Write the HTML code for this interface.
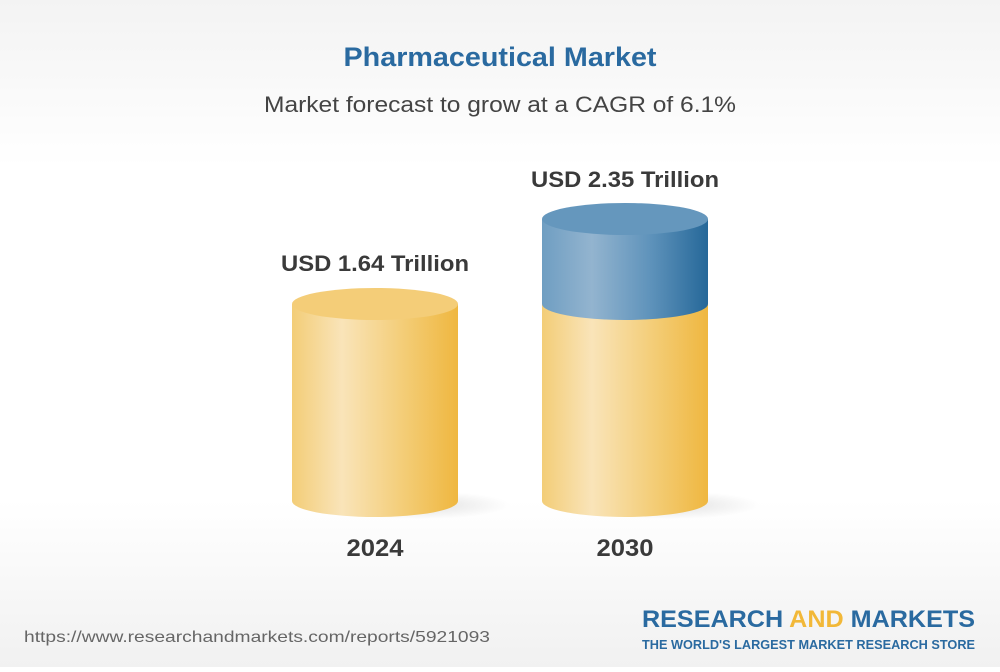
<!DOCTYPE html>
<html><head><style>
html,body{margin:0;padding:0;}
body{width:1000px;height:667px;overflow:hidden;font-family:"Liberation Sans",sans-serif;}
</style></head><body>
<svg width="1000" height="667" xmlns="http://www.w3.org/2000/svg">
<defs>
<linearGradient id="bg" x1="0" y1="0" x2="0" y2="1">
<stop offset="0" stop-color="#f3f3f3"/><stop offset="0.25" stop-color="#ffffff"/><stop offset="0.75" stop-color="#ffffff"/><stop offset="1" stop-color="#f1f1f1"/>
</linearGradient>
<linearGradient id="gold" x1="0" x2="1">
<stop offset="0" stop-color="#f3cd77"/><stop offset="0.3" stop-color="#f9e4b9"/><stop offset="0.7" stop-color="#f3cb72"/><stop offset="1" stop-color="#efb740"/>
</linearGradient>
<linearGradient id="blue" x1="0" x2="1">
<stop offset="0" stop-color="#6f9ec2"/><stop offset="0.3" stop-color="#93b4cf"/><stop offset="0.65" stop-color="#5f93bb"/><stop offset="1" stop-color="#266899"/>
</linearGradient>
<radialGradient id="sh"><stop offset="0" stop-color="#000" stop-opacity="0.12"/><stop offset="1" stop-color="#000" stop-opacity="0"/></radialGradient>
</defs>
<rect width="1000" height="667" fill="url(#bg)"/>
<text x="500" y="66" text-anchor="middle" font-size="27" font-weight="bold" fill="#2a6aa0" textLength="313" lengthAdjust="spacingAndGlyphs">Pharmaceutical Market</text>
<text x="500" y="112" text-anchor="middle" font-size="22" fill="#444" textLength="472" lengthAdjust="spacingAndGlyphs">Market forecast to grow at a CAGR of 6.1%</text>

<ellipse cx="420" cy="505" rx="90" ry="14" fill="url(#sh)"/>
<ellipse cx="670" cy="505" rx="90" ry="14" fill="url(#sh)"/>

<path d="M292 304 L292 501 A83 16 0 0 0 458 501 L458 304 Z" fill="url(#gold)"/>
<ellipse cx="375" cy="304" rx="83" ry="16" fill="#f4cd78"/>

<path d="M542 304 L542 501 A83 16 0 0 0 708 501 L708 304 Z" fill="url(#gold)"/>
<path d="M542 219 L542 304 A83 16 0 0 0 708 304 L708 219 Z" fill="url(#blue)"/>
<ellipse cx="625" cy="219" rx="83" ry="16" fill="#6597bd"/>

<text x="375" y="271" text-anchor="middle" font-size="22" font-weight="bold" fill="#3a3a3a" textLength="188" lengthAdjust="spacingAndGlyphs">USD 1.64 Trillion</text>
<text x="625" y="187" text-anchor="middle" font-size="22" font-weight="bold" fill="#3a3a3a" textLength="188" lengthAdjust="spacingAndGlyphs">USD 2.35 Trillion</text>
<text x="375" y="556" text-anchor="middle" font-size="24" font-weight="bold" fill="#3a3a3a" textLength="57" lengthAdjust="spacingAndGlyphs">2024</text>
<text x="625" y="556" text-anchor="middle" font-size="24" font-weight="bold" fill="#3a3a3a" textLength="57" lengthAdjust="spacingAndGlyphs">2030</text>

<text x="24" y="642" font-size="16" fill="#666" textLength="466" lengthAdjust="spacingAndGlyphs">https://www.researchandmarkets.com/reports/5921093</text>
<text x="975" y="627" text-anchor="end" font-size="24" font-weight="bold" fill="#2a6aa0" textLength="333" lengthAdjust="spacingAndGlyphs">RESEARCH <tspan fill="#f2b838">AND</tspan> MARKETS</text>
<text x="975" y="649" text-anchor="end" font-size="12.5" font-weight="bold" fill="#2a6aa0" textLength="333" lengthAdjust="spacingAndGlyphs">THE WORLD'S LARGEST MARKET RESEARCH STORE</text>
</svg>
</body></html>
